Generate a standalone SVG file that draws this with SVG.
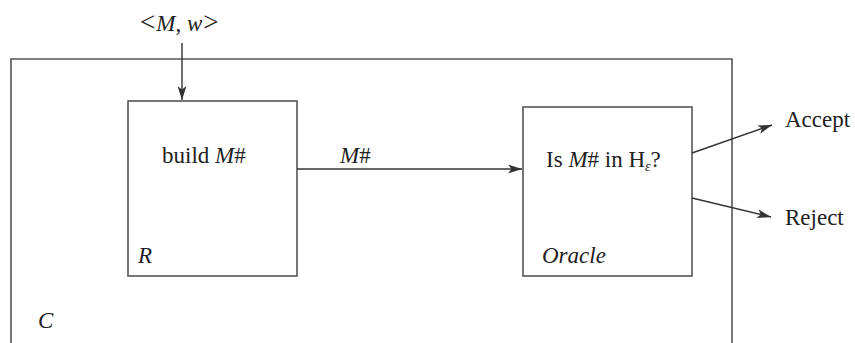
<svg xmlns="http://www.w3.org/2000/svg" width="855" height="343" viewBox="0 0 855 343">
<style>
.box{fill:none;stroke:#555;stroke-width:1.6}
.ln{fill:none;stroke:#333;stroke-width:1.4}
text{font-family:"Liberation Serif","Times New Roman",serif;font-size:23px;fill:#222}
.i{font-style:italic}
.op{font-size:27px}
</style>
<defs>
<marker id="ah" viewBox="0 0 14 9" refX="14" refY="4.5" markerWidth="14" markerHeight="9" markerUnits="userSpaceOnUse" orient="auto">
<path d="M0,0 L14,4.5 L0,9 L3.5,4.5 Z" fill="#333"/>
</marker>
</defs>
<g id="C">
<path class="box" d="M11,343 V59 H732 V343"/>
<text x="38" y="328" class="i">C</text>
</g>
<g id="R">
<rect class="box" x="128" y="101" width="169" height="175"/>
<text x="162" y="163">build <tspan class="i">M</tspan>#</text>
<text x="138" y="263" class="i">R</text>
</g>
<g id="Oracle">
<rect class="box" x="523" y="107" width="169" height="169"/>
<text x="546" y="167">Is <tspan class="i">M</tspan># in H<tspan font-size="14" dy="4" class="i">ε</tspan><tspan dy="-4">?</tspan></text>
<text x="542" y="263" class="i">Oracle</text>
</g>
<g id="input">
<text x="140" y="31"><tspan class="op">&lt;</tspan><tspan class="i" dx="1">M</tspan>, <tspan class="i">w</tspan><tspan class="op" dx="1">&gt;</tspan></text>
</g>
<g id="outputs">
<text x="785" y="127">Accept</text>
<text x="785" y="225">Reject</text>
</g>
<g id="connectors">
<line class="ln" x1="182" y1="43" x2="182" y2="100" marker-end="url(#ah)"/>
<line class="ln" x1="297" y1="169" x2="522" y2="169" marker-end="url(#ah)"/>
<text x="340" y="163"><tspan class="i">M</tspan>#</text>
<line class="ln" x1="692" y1="153" x2="772" y2="125" marker-end="url(#ah)"/>
<line class="ln" x1="692" y1="198" x2="771" y2="217" marker-end="url(#ah)"/>
</g>
</svg>
